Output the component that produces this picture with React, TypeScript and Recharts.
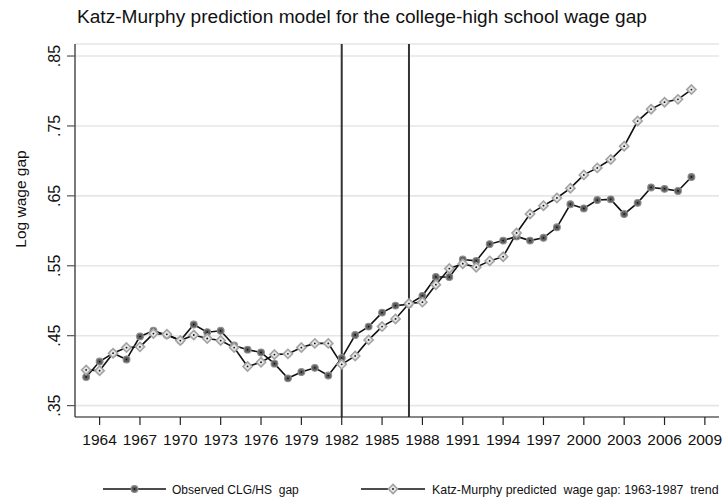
import React from "react";
import {
  LineChart,
  Line,
  XAxis,
  YAxis,
  CartesianGrid,
  ReferenceLine,
  Legend,
} from "recharts";

const years = [
  1963, 1964, 1965, 1966, 1967, 1968, 1969, 1970, 1971, 1972, 1973, 1974,
  1975, 1976, 1977, 1978, 1979, 1980, 1981, 1982, 1983, 1984, 1985, 1986,
  1987, 1988, 1989, 1990, 1991, 1992, 1993, 1994, 1995, 1996, 1997, 1998,
  1999, 2000, 2001, 2002, 2003, 2004, 2005, 2006, 2007, 2008,
];

const observed = [
  0.391, 0.413, 0.425, 0.416, 0.449, 0.457, 0.451, 0.443, 0.466, 0.455, 0.457,
  0.436, 0.43, 0.426, 0.41, 0.389, 0.398, 0.404, 0.393, 0.418, 0.451, 0.463,
  0.483, 0.493, 0.495, 0.507, 0.534, 0.534, 0.559, 0.557, 0.581, 0.586, 0.592,
  0.586, 0.59, 0.605, 0.638, 0.632, 0.644, 0.645, 0.624, 0.64, 0.662, 0.66,
  0.657, 0.677,
];

const predicted = [
  0.401, 0.4, 0.425, 0.433, 0.434, 0.453, 0.452, 0.443, 0.451, 0.446, 0.443,
  0.433, 0.406, 0.412, 0.423, 0.424, 0.433, 0.439, 0.439, 0.409, 0.421, 0.444,
  0.463, 0.474, 0.496, 0.498, 0.523, 0.546, 0.553, 0.548, 0.557, 0.563, 0.597,
  0.624, 0.636, 0.647, 0.661, 0.68, 0.69, 0.702, 0.721, 0.757, 0.774, 0.784,
  0.788, 0.802,
];

const xTicks = [
  1964, 1967, 1970, 1973, 1976, 1979, 1982, 1985, 1988, 1991, 1994, 1997, 2000,
  2003, 2006, 2009,
];
const yTicks = [0.35, 0.45, 0.55, 0.65, 0.75, 0.85];
const breakYears = [1982, 1987];

const titleText =
  "Katz-Murphy prediction model for the college-high school wage gap";
const yLabel = "Log wage gap";
const seriesNames = [
  "Observed CLG/HS  gap",
  "Katz-Murphy predicted  wage gap: 1963-1987  trend",
];

const data = years.map((y, i) => ({
  year: y,
  observed: observed[i],
  predicted: predicted[i],
}));

const FONT = "'Liberation Sans', Arial, Helvetica, sans-serif";

const CircleMark = ({ cx, cy }: { cx?: number; cy?: number }) => {
  if (cx == null || cy == null) return null;
  return (
    <g>
      <circle cx={cx} cy={cy} r={3.4} fill="#5e5e5e" stroke="#8e8e8e" strokeWidth={1.1} />
      <circle cx={cx} cy={cy} r={0.9} fill="#111" />
    </g>
  );
};

const DiamondMark = ({ cx, cy }: { cx?: number; cy?: number }) => {
  if (cx == null || cy == null) return null;
  const d = 4.6;
  return (
    <g>
      <path
        d={`M${cx},${cy - d}L${cx + d},${cy}L${cx},${cy + d}L${cx - d},${cy}Z`}
        fill="#e6e6e6"
        stroke="#a3a3a3"
        strokeWidth={1.6}
      />
      <circle cx={cx} cy={cy} r={0.9} fill="#111" />
    </g>
  );
};

const fmtY = (v: number) => v.toFixed(2).replace(/^0/, "");

const YTick = (props: any) => {
  const { x, y, payload } = props;
  const bx = x - 5;
  return (
    <text
      x={bx}
      y={y}
      transform={`rotate(-90, ${bx}, ${y})`}
      textAnchor="middle"
      fontSize={16}
      fontFamily={FONT}
      fill="#111"
    >
      {fmtY(payload.value)}
    </text>
  );
};

const LegendContent = () => {
  const items = [
    { x0: 103, x1: 166, text: 172, mark: "circle", fs: 12 },
    { x0: 361, x1: 425, text: 432, mark: "diamond", fs: 12.4 },
  ];
  const cy = 12;
  return (
    <svg width={724} height={22} style={{ display: "block" }}>
      {items.map((it, i) => (
        <g key={i}>
          <line x1={it.x0} x2={it.x1} y1={cy} y2={cy} stroke="#111" strokeWidth={1.6} />
          {it.mark === "circle" ? (
            <CircleMark cx={(it.x0 + it.x1) / 2} cy={cy} />
          ) : (
            <DiamondMark cx={(it.x0 + it.x1) / 2} cy={cy} />
          )}
          <text
            x={it.text}
            y={cy + 4.5}
            fontSize={it.fs}
            fontFamily={FONT}
            fill="#111"
            style={{ whiteSpace: "pre" }}
          >
            {seriesNames[i]}
          </text>
        </g>
      ))}
    </svg>
  );
};

export default function App() {
  return (
    <div style={{ position: "absolute", left: 0, top: 0, width: 724, height: 498, background: "#fff" }}>
      <LineChart
        width={724}
        height={498}
        data={data}
        margin={{ top: 44, right: 5, bottom: 51, left: 0 }}
      >
        <text
          x={362}
          y={23}
          textAnchor="middle"
          fontSize={19.1}
          fontFamily={FONT}
          fill="#111"
        >
          {titleText}
        </text>
        <text
          x={26}
          y={199}
          transform={`rotate(-90, 26, 199)`}
          textAnchor="middle"
          fontSize={15.5}
          fontFamily={FONT}
          fill="#111"
        >
          {yLabel}
        </text>
        <CartesianGrid vertical={false} stroke="#e6e6e6" strokeWidth={1.6} />
        <XAxis
          dataKey="year"
          type="number"
          domain={[1962.17, 2010.05]}
          ticks={xTicks}
          allowDataOverflow
          interval={0}
          tickSize={8}
          tickMargin={9}
          height={30}
          axisLine={{ stroke: "#222", strokeWidth: 1.2 }}
          tickLine={{ stroke: "#222", strokeWidth: 1.2 }}
          tick={{ fontSize: 15.5, fontFamily: FONT, fill: "#111" }}
        />
        <YAxis
          type="number"
          domain={[0.3337, 0.8672]}
          ticks={yTicks}
          allowDataOverflow
          interval={0}
          width={75}
          tickSize={8}
          axisLine={{ stroke: "#222", strokeWidth: 1.2 }}
          tickLine={{ stroke: "#555", strokeWidth: 1.2 }}
          tick={<YTick />}
        />
        {breakYears.map((b) => (
          <ReferenceLine key={b} x={b} stroke="#333" strokeWidth={2} />
        ))}
        <Line
          type="linear"
          dataKey="observed"
          name={seriesNames[0]}
          stroke="#111"
          strokeWidth={1.6}
          dot={<CircleMark />}
          activeDot={false}
          isAnimationActive={false}
        />
        <Line
          type="linear"
          dataKey="predicted"
          name={seriesNames[1]}
          stroke="#111"
          strokeWidth={1.6}
          dot={<DiamondMark />}
          activeDot={false}
          isAnimationActive={false}
        />
        <Legend
          layout="horizontal"
          verticalAlign="middle"
          align="center"
          content={<LegendContent />}
          wrapperStyle={{ top: 477, left: 0, width: 724, height: 22 }}
        />
      </LineChart>
    </div>
  );
}
